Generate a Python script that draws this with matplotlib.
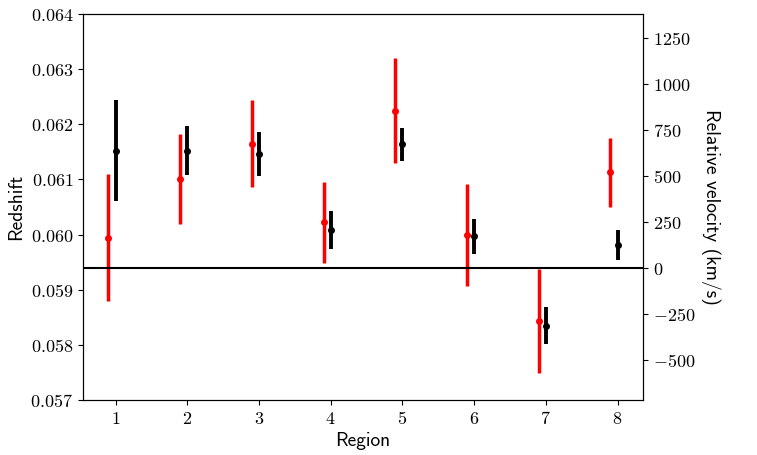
import matplotlib
matplotlib.use("Agg")
import matplotlib.pyplot as plt
from matplotlib.ticker import FuncFormatter, MultipleLocator
import numpy as np

plt.rcParams['mathtext.fontset'] = 'cm'

regions = [1, 2, 3, 4, 5, 6, 7, 8]
z_red = [0.05994, 0.06101, 0.06165, 0.06022, 0.06225, 0.05999, 0.05843, 0.06113]
err_red = [0.00115, 0.00082, 0.00079, 0.00073, 0.00095, 0.00092, 0.00094, 0.00063]
z_black = [0.06152, 0.06152, 0.06146, 0.06008, 0.06164, 0.05997, 0.05835, 0.05981]
err_black = [0.00092, 0.00044, 0.00040, 0.00035, 0.00030, 0.00032, 0.00034, 0.00027]
z0 = 0.0594
c_kms = 299792.458

fig = plt.figure(figsize=(7.57, 4.55), dpi=100)
ax = fig.add_axes([83/757, 1 - 400/455, 560/757, 386/455])

xr = np.array(regions) - 0.1
ax.errorbar(xr, z_red, yerr=err_red, fmt='o', color='red', ms=4, elinewidth=2.5, capsize=0)
ax.errorbar(regions, z_black, yerr=err_black, fmt='o', color='black', ms=4, elinewidth=2.8, capsize=0)
ax.axhline(z0, color='black', lw=1.5)

ax.set_ylim(0.057, 0.064)
ax.yaxis.set_major_locator(MultipleLocator(0.001))
ax.xaxis.set_major_locator(MultipleLocator(1))
ax.yaxis.set_major_formatter(FuncFormatter(lambda v, p: r'$%.3f$' % v))
ax.xaxis.set_major_formatter(FuncFormatter(lambda v, p: r'$%d$' % round(v)))
ax.tick_params(labelsize=13)

ax2 = ax.twinx()
ax2.set_ylim((0.057 - z0) * c_kms, (0.064 - z0) * c_kms)
ax2.yaxis.set_major_locator(MultipleLocator(250))
ax2.yaxis.set_major_formatter(FuncFormatter(lambda v, p: r'$%d$' % round(v)))
ax2.tick_params(labelsize=13)

ax.set_xlabel('Region', family='cmss10', fontsize=14, labelpad=3)
ax.set_ylabel('Redshift', family='cmss10', fontsize=14)
ax2.set_ylabel('Relative velocity (km/s)', family='cmss10', fontsize=14, rotation=270, labelpad=18)

fig.savefig('out.png', dpi=100)
